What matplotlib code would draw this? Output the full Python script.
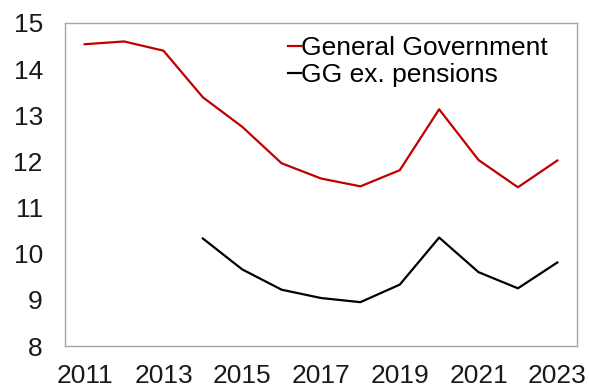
import numpy as np
from matplotlib import pyplot as plt

plt.rcParams['font.family'] = ['Liberation Sans', 'DejaVu Sans']

anios = np.arange(2011, 2024)
gobierno_general = [14.54, 14.60, 14.40, 13.39, 12.75, 11.96, 11.63, 11.46,
                    11.81, 13.13, 12.03, 11.44, 12.02]
anios_sin_pensiones = np.arange(2014, 2024)
gg_sin_pensiones = [10.33, 9.66, 9.22, 9.04, 8.95, 9.33, 10.35, 9.60, 9.25, 9.81]
etiquetas_x = [str(a) for a in range(2011, 2024, 2)]

fig = plt.figure(figsize=(5.89, 3.88), dpi=100)
ax = fig.add_axes([65 / 589, 42 / 388, 512 / 589, 323 / 388])

ax.plot(anios, gobierno_general, color='#c00000', linewidth=1.6,
        label='General Government')
ax.plot(anios_sin_pensiones, gg_sin_pensiones, color='black', linewidth=1.6,
        label='GG ex. pensions')

ax.set_xlim(2010.5, 2023.5)
ax.set_ylim(8, 15)
ax.set_xticks(range(2011, 2024, 2))
ax.set_xticklabels(etiquetas_x)
ax.set_yticks(range(8, 16))
ax.tick_params(length=0, labelsize=19, colors='#1a1a1a')
ax.tick_params(axis='x', pad=13)
ax.tick_params(axis='y', pad=16)

for lado in ax.spines.values():
    lado.set_color('#a6a6a6')
    lado.set_linewidth(1.0)

ax.legend(loc='upper left', bbox_to_anchor=(0.41, 1.0), frameon=False,
          fontsize=19, handlelength=0.5, handletextpad=0.0,
          labelspacing=0.1, borderaxespad=0.1)

fig.savefig('out.png', dpi=100)
